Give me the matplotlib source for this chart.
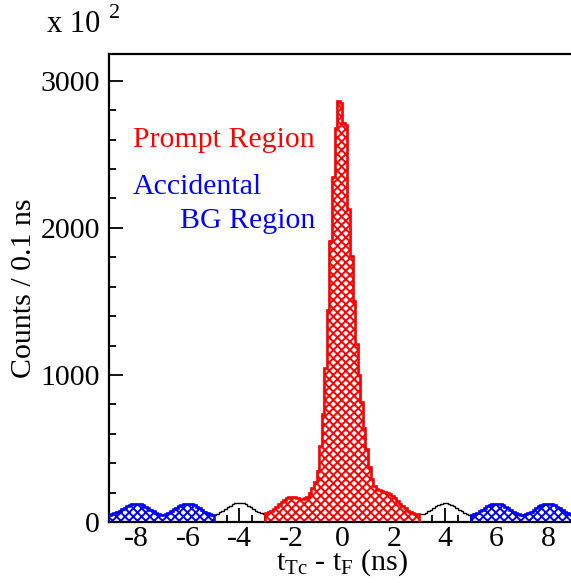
import numpy as np
import matplotlib
matplotlib.use("Agg")
import matplotlib.pyplot as plt

plt.rcParams['font.family'] = ['Liberation Serif', 'DejaVu Serif']
plt.rcParams['mathtext.fontset'] = 'custom'
plt.rcParams['mathtext.rm'] = 'Liberation Serif'
plt.rcParams['mathtext.it'] = 'Liberation Serif:italic'
plt.rcParams['axes.unicode_minus'] = False
plt.rcParams['hatch.linewidth'] = 1.4

# counts per 0.1 ns bin (edges -9.1 ... 9.1)
edge_left = [48]
bg_m8 = [52, 58, 66, 76, 87, 98, 108, 116, 122, 125, 124, 121, 114, 105, 95, 84, 73, 63, 55, 49]
bg_m6 = [47, 54, 63, 73, 85, 96, 107, 115, 121, 124, 125, 120, 113, 104, 93, 82, 71, 61, 54, 48]
bg_m4 = [50, 57, 66, 77, 89, 101, 112, 121, 128, 131, 130, 126, 119, 110, 99, 88, 77, 68, 61, 57]
prompt = [62, 68, 78, 90, 104, 120, 136, 150, 162, 170,
          173, 170, 164, 157, 155, 160, 172, 195, 230, 271,
          350, 514, 732, 1049, 1444, 1911, 2343, 2680, 2862, 2850,
          2710, 2700, 2131, 1807, 1503, 1213, 1002, 815, 641, 498,
          373, 294, 248, 226, 215, 208, 203, 196, 188, 178,
          160, 143, 125, 108, 92, 78, 67, 60, 55, 52]
bg_p4 = [53, 57, 64, 73, 84, 96, 107, 117, 124, 128, 128, 124, 116, 106, 95, 83, 72, 62, 54, 48]
bg_p6 = [46, 52, 61, 72, 84, 96, 107, 116, 122, 125, 124, 120, 113, 103, 92, 81, 70, 60, 53, 47]
bg_p8 = [46, 52, 60, 71, 83, 95, 106, 115, 121, 124, 125, 121, 114, 104, 93, 82, 71, 62, 55, 50]
edge_right = [47]

counts = np.array(edge_left + bg_m8 + bg_m6 + bg_m4 + prompt + bg_p4 + bg_p6 + bg_p8 + edge_right, float)
edges = np.round(np.arange(-91, 92) / 10.0, 1)

fig = plt.figure(figsize=(5.71, 5.83), dpi=100)
ax = fig.add_axes([109 / 571, 61 / 583, (575.6 - 109) / 571, 468 / 583])


def region(lo, hi, color):
    i0 = int(np.argmin(np.abs(edges - lo)))
    i1 = int(np.argmin(np.abs(edges - hi)))
    ax.stairs(counts[i0:i1], edges[i0:i1 + 1], fill=True, hatch='xxxx',
              facecolor='white', edgecolor=color, linewidth=0, zorder=2)
    ax.stairs(counts[i0:i1], edges[i0:i1 + 1], color=color, linewidth=1.9, zorder=3)


# whole histogram in black, then the selected regions on top
ax.stairs(counts, edges, color='black', linewidth=1.0, zorder=1)
region(-9.1, -5.0, 'blue')
region(-3.0, 3.0, 'red')
region(5.0, 9.1, 'blue')

ax.set_xlim(-9.07, 9.07)
ax.set_ylim(0, 3182)
ax.set_xticks(np.arange(-8, 9, 2))
ax.set_xticks(np.arange(-9, 9.1, 0.5), minor=True)
ax.set_yticks([0, 1000, 2000, 3000])
ax.set_yticks(np.arange(0, 3101, 200), minor=True)
ax.tick_params(which='both', direction='in', top=False, right=False,
               labelsize=21.5, width=1.3)
ax.tick_params(which='major', length=10)
ax.tick_params(which='minor', length=5)
ax.tick_params(axis='x', which='major', pad=3)
ax.tick_params(axis='y', which='major', pad=6.5)
for s in ax.spines.values():
    s.set_linewidth(1.6)

ax.text(0.0514, 0.8017, 'Prompt Region', color='red', fontsize=21.5,
        va='baseline', transform=ax.transAxes)
ax.text(0.0514, 0.7005, 'Accidental', color='blue', fontsize=21.5,
        va='baseline', transform=ax.transAxes)
ax.text(0.152, 0.6284, 'BG Region', color='blue', fontsize=21.5,
        va='baseline', transform=ax.transAxes)

fig.text(24 / 571, 1 - 288 / 583, 'Counts / 0.1 ns', rotation=90, fontsize=21.5,
         ha='center', va='center')
fig.text(342 / 571, 1 - 563 / 583, r'$\mathregular{t_{Tc}}$ - $\mathregular{t_F}$ (ns)',
         fontsize=21.5, ha='center', va='center')
fig.text(74 / 571, 1 - 25 / 583, 'x 10', fontsize=22, ha='center', va='center')
fig.text(115 / 571, 1 - 14 / 583, '2', fontsize=16, ha='center', va='center')

fig.savefig('out.png', dpi=100)
